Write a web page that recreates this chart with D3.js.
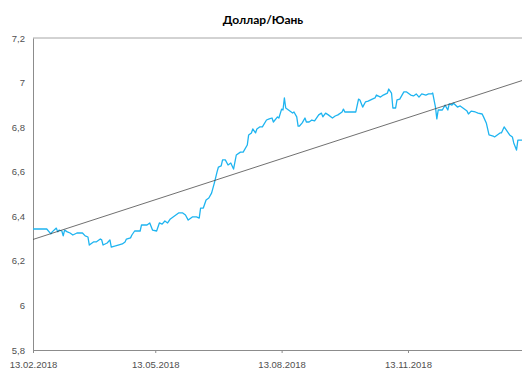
<!DOCTYPE html>
<html>
<head>
<meta charset="utf-8">
<script src="https://cdn.jsdelivr.net/npm/d3@7"></script>
<style>
  body { margin: 0; background: #fff; }
  svg { display: block; font-family: Lato, "Open Sans", sans-serif; }
  .axis text { fill: #505050; font-size: 9.5px; }
  .axis path, .axis line { stroke: #8c8c8c; }
  .title { font-size: 12px; font-weight: bold; fill: #000; }
</style>
</head>
<body>
<svg width="522" height="374"></svg>
<script>
const dates = [
  "2018-02-13","2018-02-23","2018-02-26","2018-02-27","2018-03-02","2018-03-03","2018-03-04","2018-03-06",
  "2018-03-07","2018-03-08","2018-03-10","2018-03-12","2018-03-14","2018-03-17","2018-03-21","2018-03-23",
  "2018-03-25","2018-03-26","2018-03-29","2018-03-31","2018-04-03","2018-04-04","2018-04-05","2018-04-08",
  "2018-04-10","2018-04-11","2018-04-14","2018-04-16","2018-04-19","2018-04-21","2018-04-22","2018-04-25",
  "2018-04-26","2018-04-28","2018-05-02","2018-05-03","2018-05-07","2018-05-09","2018-05-11","2018-05-14",
  "2018-05-16","2018-05-18","2018-05-20","2018-05-22","2018-05-24","2018-05-26","2018-05-30","2018-06-02",
  "2018-06-04","2018-06-06","2018-06-09","2018-06-12","2018-06-14","2018-06-15","2018-06-17","2018-06-19",
  "2018-06-21","2018-06-23","2018-06-25","2018-06-27","2018-06-28","2018-06-30","2018-07-01","2018-07-03",
  "2018-07-05","2018-07-07","2018-07-09","2018-07-11","2018-07-14","2018-07-16","2018-07-19","2018-07-20",
  "2018-07-22","2018-07-23","2018-07-25","2018-07-26","2018-07-28","2018-07-30","2018-08-02","2018-08-04",
  "2018-08-06","2018-08-07","2018-08-10","2018-08-11","2018-08-13","2018-08-14","2018-08-15","2018-08-16",
  "2018-08-18","2018-08-21","2018-08-22","2018-08-24","2018-08-25","2018-08-26","2018-08-28","2018-08-30",
  "2018-08-31","2018-09-02","2018-09-04","2018-09-06","2018-09-08","2018-09-09","2018-09-11","2018-09-12",
  "2018-09-14","2018-09-16","2018-09-19","2018-09-21","2018-09-23","2018-09-26","2018-09-27","2018-09-28",
  "2018-10-06","2018-10-08","2018-10-09","2018-10-11","2018-10-13","2018-10-15","2018-10-18","2018-10-20",
  "2018-10-21","2018-10-24","2018-10-26","2018-10-29","2018-10-30","2018-11-01","2018-11-02","2018-11-04",
  "2018-11-05","2018-11-07","2018-11-10","2018-11-12","2018-11-15","2018-11-17","2018-11-19","2018-11-21",
  "2018-11-23","2018-11-26","2018-11-28","2018-11-30","2018-12-01","2018-12-03","2018-12-04","2018-12-05",
  "2018-12-08","2018-12-10","2018-12-12","2018-12-13","2018-12-15","2018-12-16","2018-12-19","2018-12-21",
  "2018-12-23","2018-12-26","2018-12-27","2018-12-29","2019-01-01","2019-01-03","2019-01-06","2019-01-07",
  "2019-01-09","2019-01-11","2019-01-14","2019-01-15","2019-01-17","2019-01-19","2019-01-20","2019-01-22",
  "2019-01-25","2019-01-26","2019-01-28","2019-01-29","2019-01-31","2019-02-01","2019-02-04"
]

const rates = [
  6.343,6.343,6.321,6.330,6.347,6.330,6.338,6.334,
  6.312,6.338,6.330,6.325,6.316,6.325,6.325,6.312,
  6.307,6.271,6.285,6.285,6.298,6.294,6.271,6.280,
  6.294,6.262,6.267,6.271,6.276,6.285,6.298,6.303,
  6.316,6.334,6.334,6.361,6.361,6.370,6.338,6.334,
  6.370,6.365,6.379,6.370,6.388,6.397,6.415,6.415,
  6.406,6.383,6.397,6.397,6.392,6.437,6.437,6.473,
  6.482,6.504,6.549,6.599,6.621,6.626,6.653,6.653,
  6.630,6.639,6.612,6.675,6.688,6.688,6.720,6.765,
  6.774,6.792,6.774,6.792,6.801,6.801,6.832,6.837,
  6.841,6.823,6.846,6.841,6.881,6.877,6.931,6.886,
  6.877,6.863,6.868,6.846,6.805,6.805,6.819,6.841,
  6.823,6.823,6.832,6.828,6.846,6.855,6.863,6.846,
  6.863,6.855,6.841,6.850,6.855,6.868,6.881,6.868,
  6.868,6.926,6.922,6.890,6.913,6.917,6.926,6.931,
  6.944,6.935,6.944,6.953,6.971,6.953,6.886,6.886,
  6.922,6.926,6.958,6.958,6.944,6.940,6.949,6.935,
  6.949,6.944,6.949,6.949,6.953,6.890,6.837,6.877,
  6.877,6.899,6.877,6.904,6.899,6.908,6.890,6.895,
  6.886,6.872,6.859,6.872,6.868,6.863,6.859,6.846,
  6.819,6.765,6.760,6.756,6.765,6.774,6.774,6.801,
  6.774,6.765,6.756,6.729,6.697,6.742,6.742
]

// linear trend at both ends
const trendDates = ["2018-02-13", "2019-02-04"]
const trendValues = [6.296, 7.009]

const yTicks = [5.8, 6, 6.2, 6.4, 6.6, 6.8, 7, 7.2]
const xTicks = ["2018-02-13", "2018-05-13", "2018-08-13", "2018-11-13"]

const parse = d3.timeParse("%Y-%m-%d")

const svg = d3.select("svg"),
      margin = {top: 38, right: 0, bottom: 24, left: 33},
      width = svg.attr("width") - margin.left - margin.right,
      height = svg.attr("height") - margin.top - margin.bottom,
      g = svg.append("g").attr("transform", "translate(" + margin.left + "," + margin.top + ")")

const x = d3.scaleTime().domain([parse("2018-02-13"), parse("2019-02-04")]).range([0, width]),
      y = d3.scaleLinear().domain([5.8, 7.2]).range([height, 0])

const data = dates.map((d, i) => ({date: parse(d), value: rates[i]}))
const trend = trendDates.map((d, i) => ({date: parse(d), value: trendValues[i]}))

const line = d3.line()
  .x(d => x(d.date))
  .y(d => y(d.value))

const commaFmt = v => String(v).replace(".", ",")

// top border of the plot area
g.append("line")
  .attr("x1", 0).attr("x2", width)
  .attr("y1", y(7.2)).attr("y2", y(7.2))
  .attr("stroke", "#a6a6a6")

const yAxis = g.append("g")
  .attr("class", "axis axis--y")
  .call(d3.axisLeft(y).tickValues(yTicks).tickFormat(commaFmt).tickSize(0).tickPadding(8))
yAxis.select(".domain").attr("stroke", "#a6a6a6")

const xAxis = g.append("g")
  .attr("class", "axis axis--x")
  .attr("transform", "translate(0," + height + ")")
  .call(d3.axisBottom(x).tickValues(xTicks.map(parse)).tickFormat(d3.timeFormat("%d.%m.%Y"))
    .tickSizeInner(3).tickSizeOuter(0).tickPadding(8))
xAxis.select(".domain").attr("stroke", "#8c8c8c")

g.append("path")
  .datum(data)
  .attr("fill", "none")
  .attr("stroke", "#1eb4f0")
  .attr("stroke-width", 1.3)
  .attr("stroke-linejoin", "round")
  .attr("d", line)

g.append("path")
  .datum(trend)
  .attr("fill", "none")
  .attr("stroke", "#404040")
  .attr("stroke-width", 0.75)
  .attr("d", line)

svg.append("text")
  .attr("class", "title")
  .attr("x", 263)
  .attr("y", 24)
  .attr("text-anchor", "middle")
  .text("Доллар/Юань")
</script>
</body>
</html>
